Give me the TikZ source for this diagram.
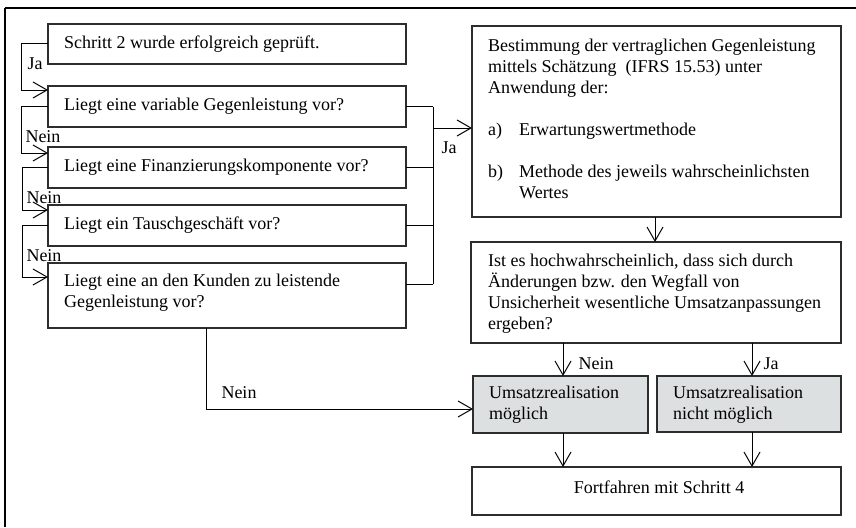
\documentclass[tikz,border=0pt]{standalone}
\usepackage{fontspec}
\setmainfont{Liberation Serif}
\usetikzlibrary{arrows.meta}
\definecolor{boxgray}{RGB}{221,224,224}
\definecolor{edge}{RGB}{45,45,45}
\tikzset{
  box/.style={draw=edge, line width=1.3pt, rectangle, inner sep=0pt, outer sep=0pt, anchor=north west},
  graybox/.style={box, fill=boxgray},
  txt/.style={font=\fontsize{18}{21}\selectfont, inner sep=0pt, align=left, anchor=west},
  lbl/.style={font=\fontsize{18}{21}\selectfont, inner sep=0pt},
  conn/.style={draw=black, line width=1pt},
  arr/.style={conn, -{Straight Barb[length=14pt, width=16pt, line width=1pt]}},
}
\begin{document}
\begin{tikzpicture}[x=1pt,y=-1pt]
\useasboundingbox (0,0) rectangle (856,527);
% outer frame (partly visible)
\draw[line width=1.2pt] (5,8) -- (856,8);
\draw[line width=2.5pt] (5,8) -- (5,527);

% left column boxes
\node[box, minimum width=358pt, minimum height=40pt] (A) at (48,24) {};
\node[txt] (At) at (64,44) {Schritt 2 wurde erfolgreich geprüft.};
\node[box, minimum width=358pt, minimum height=41pt] (B) at (48,86) {};
\node[txt] (Bt) at (64,106.5) {Liegt eine variable Gegenleistung vor?};
\node[box, minimum width=358pt, minimum height=41pt] (C) at (48,147) {};
\node[txt] (Ct) at (64,167.5) {Liegt eine Finanzierungskomponente vor?};
\node[box, minimum width=358pt, minimum height=41pt] (D) at (48,205) {};
\node[txt] (Dt) at (64,225.5) {Liegt ein Tauschgeschäft vor?};
\node[box, minimum width=358pt, minimum height=65pt] (E) at (48,263) {};
\node[txt] (Et) at (64,293) {Liegt eine an den Kunden zu leistende\\Gegenleistung vor?};

% right column boxes
\node[box, minimum width=369pt, minimum height=191pt] (F) at (472,26) {};
\node[txt] (Ft) at (488,118.5) {Bestimmung der vertraglichen Gegenleistung\\
mittels Schätzung\ \ (IFRS 15.53) unter\\
Anwendung der:\\[21pt]
\makebox[31pt][l]{a)}Erwartungswertmethode\\[21pt]
\makebox[31pt][l]{b)}Methode des jeweils wahrscheinlichsten\\
\hspace*{31pt}Wertes};
\node[box, minimum width=370pt, minimum height=101pt] (G) at (471,242) {};
\node[txt] (Gt) at (488,293.5) {Ist es hochwahrscheinlich, dass sich durch\\
Änderungen bzw. den Wegfall von\\
Unsicherheit wesentliche Umsatzanpassungen\\
ergeben?};
\node[graybox, minimum width=175pt, minimum height=57pt] (H1) at (473,376) {};
\node[txt] (H1t) at (489,405) {Umsatzrealisation\\möglich};
\node[graybox, minimum width=184pt, minimum height=56pt] (H2) at (657,376) {};
\node[txt] (H2t) at (673,405) {Umsatzrealisation\\nicht möglich};
\node[box, minimum width=369pt, minimum height=48pt] (I) at (472,467) {};
\node[lbl] (It) at (659,487) {Fortfahren mit Schritt 4};

% left "Nein" chain
\draw[arr] (A.west) -| (21,90) -- (B.west |- 21,90);
\draw[arr] (B.west) -| (21,153) -- (C.west |- 21,153);
\draw[arr] (C.west) -| (22,210) -- (D.west |- 22,210);
\draw[arr] (D.west) -| (22,277) -- (E.west |- 22,277);
\node[lbl] (lja1) at (35,64) {Ja};
\node[lbl] (ln1) at (43,137) {Nein};
\node[lbl] (ln2) at (44,198) {Nein};
\node[lbl] (ln3) at (44,256) {Nein};

% right "Ja" bus
\coordinate (bustop) at (433,106.5);
\coordinate (busbot) at (433,284);
\coordinate (busout) at (433,128);
\draw[conn] (B.east) -- (bustop);
\draw[conn] (C.east) -- (C.east -| bustop);
\draw[conn] (D.east) -- (D.east -| bustop);
\draw[conn] (E.east |- busbot) -- (busbot);
\draw[conn] (bustop) -- (busbot);
\draw[arr] (busout) -- (F.west |- busout);
\node[lbl] (lja2) at (449,148) {Ja};

% bottom "Nein" from E to H1
\coordinate (ebot) at (206,328);
\coordinate (h1in) at (473,409);
\draw[arr] (ebot) |- (h1in);
\node[lbl] (ln4) at (239,393) {Nein};

% F -> G
\draw[arr] (F.south -| 655,0) -- (G.north -| 655,0);
% G -> H1, H2
\draw[arr] (G.south -| 563,0) -- (H1.north -| 563,0);
\draw[arr] (G.south -| 752,0) -- (H2.north -| 752,0);
\node[lbl] (ln5) at (596,364) {Nein};
\node[lbl] (lja3) at (771,364) {Ja};
% H -> I
\draw[arr] (H1.south -| 563,0) -- (I.north -| 563,0);
\draw[arr] (H2.south -| 752,0) -- (I.north -| 752,0);
\end{tikzpicture}
\end{document}
